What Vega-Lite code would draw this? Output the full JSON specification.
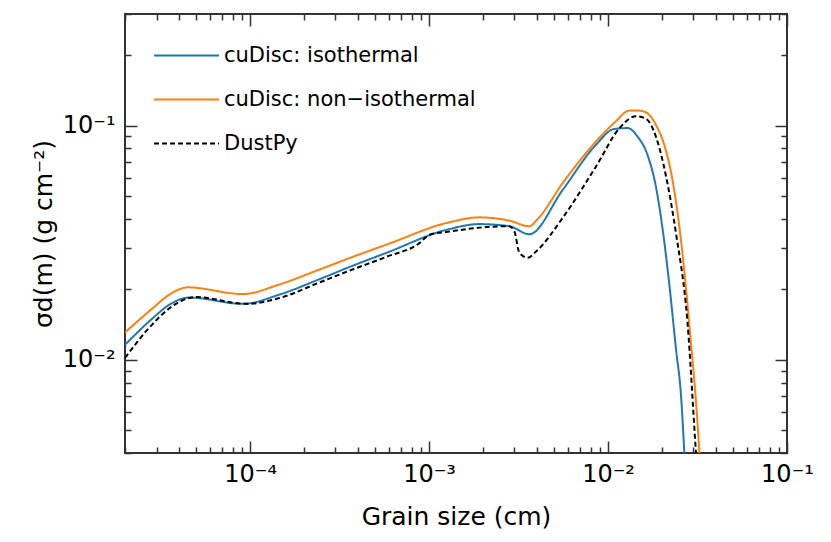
{
  "$schema": "https://vega.github.io/schema/vega-lite/v6.json",
  "width": 662,
  "height": 439,
  "autosize": "none",
  "padding": {"left": 125, "top": 14, "right": 44, "bottom": 89},
  "data": {
    "values": [
      {"series": "cuDisc: isothermal", "size": 0.00002, "sigma": 0.01159},
      {"series": "cuDisc: isothermal", "size": 0.0000286, "sigma": 0.01507},
      {"series": "cuDisc: isothermal", "size": 0.0000354, "sigma": 0.0172},
      {"series": "cuDisc: isothermal", "size": 0.0000458, "sigma": 0.01845},
      {"series": "cuDisc: isothermal", "size": 0.0000909, "sigma": 0.01734},
      {"series": "cuDisc: isothermal", "size": 0.000146, "sigma": 0.019},
      {"series": "cuDisc: isothermal", "size": 0.000244, "sigma": 0.0221},
      {"series": "cuDisc: isothermal", "size": 0.000373, "sigma": 0.0252},
      {"series": "cuDisc: isothermal", "size": 0.000575, "sigma": 0.0286},
      {"series": "cuDisc: isothermal", "size": 0.0013, "sigma": 0.0362},
      {"series": "cuDisc: isothermal", "size": 0.00191, "sigma": 0.038},
      {"series": "cuDisc: isothermal", "size": 0.00281, "sigma": 0.0372},
      {"series": "cuDisc: isothermal", "size": 0.00363, "sigma": 0.0344},
      {"series": "cuDisc: isothermal", "size": 0.00558, "sigma": 0.0532},
      {"series": "cuDisc: isothermal", "size": 0.00857, "sigma": 0.083},
      {"series": "cuDisc: isothermal", "size": 0.0108, "sigma": 0.0968},
      {"series": "cuDisc: isothermal", "size": 0.0129, "sigma": 0.0977},
      {"series": "cuDisc: isothermal", "size": 0.0146, "sigma": 0.09},
      {"series": "cuDisc: isothermal", "size": 0.0166, "sigma": 0.0752},
      {"series": "cuDisc: isothermal", "size": 0.0185, "sigma": 0.0551},
      {"series": "cuDisc: isothermal", "size": 0.0202, "sigma": 0.036},
      {"series": "cuDisc: isothermal", "size": 0.022, "sigma": 0.021},
      {"series": "cuDisc: isothermal", "size": 0.024, "sigma": 0.01104},
      {"series": "cuDisc: isothermal", "size": 0.0256, "sigma": 0.00697},
      {"series": "cuDisc: isothermal", "size": 0.0267, "sigma": 0.004},
      {"series": "cuDisc: isothermal", "size": 0.028, "sigma": 0.002},
      {"series": "cuDisc: non−isothermal", "size": 0.00002, "sigma": 0.01309},
      {"series": "cuDisc: non−isothermal", "size": 0.0000286, "sigma": 0.01663},
      {"series": "cuDisc: non−isothermal", "size": 0.0000354, "sigma": 0.019},
      {"series": "cuDisc: non−isothermal", "size": 0.0000448, "sigma": 0.0204},
      {"series": "cuDisc: non−isothermal", "size": 0.0000909, "sigma": 0.0191},
      {"series": "cuDisc: non−isothermal", "size": 0.000146, "sigma": 0.021},
      {"series": "cuDisc: non−isothermal", "size": 0.000244, "sigma": 0.0243},
      {"series": "cuDisc: non−isothermal", "size": 0.000373, "sigma": 0.0275},
      {"series": "cuDisc: non−isothermal", "size": 0.000575, "sigma": 0.031},
      {"series": "cuDisc: non−isothermal", "size": 0.0013, "sigma": 0.0387},
      {"series": "cuDisc: non−isothermal", "size": 0.00191, "sigma": 0.0406},
      {"series": "cuDisc: non−isothermal", "size": 0.00281, "sigma": 0.0393},
      {"series": "cuDisc: non−isothermal", "size": 0.00363, "sigma": 0.0372},
      {"series": "cuDisc: non−isothermal", "size": 0.00404, "sigma": 0.0399},
      {"series": "cuDisc: non−isothermal", "size": 0.00558, "sigma": 0.0569},
      {"series": "cuDisc: non−isothermal", "size": 0.00857, "sigma": 0.0857},
      {"series": "cuDisc: non−isothermal", "size": 0.0108, "sigma": 0.1026},
      {"series": "cuDisc: non−isothermal", "size": 0.0132, "sigma": 0.116},
      {"series": "cuDisc: non−isothermal", "size": 0.0149, "sigma": 0.116},
      {"series": "cuDisc: non−isothermal", "size": 0.0166, "sigma": 0.113},
      {"series": "cuDisc: non−isothermal", "size": 0.0185, "sigma": 0.101},
      {"series": "cuDisc: non−isothermal", "size": 0.0206, "sigma": 0.083},
      {"series": "cuDisc: non−isothermal", "size": 0.0229, "sigma": 0.0588},
      {"series": "cuDisc: non−isothermal", "size": 0.0256, "sigma": 0.0321},
      {"series": "cuDisc: non−isothermal", "size": 0.0284, "sigma": 0.01436},
      {"series": "cuDisc: non−isothermal", "size": 0.0324, "sigma": 0.004},
      {"series": "cuDisc: non−isothermal", "size": 0.034, "sigma": 0.002},
      {"series": "DustPy", "size": 0.00002, "sigma": 0.0102},
      {"series": "DustPy", "size": 0.0000286, "sigma": 0.01425},
      {"series": "DustPy", "size": 0.0000354, "sigma": 0.0166},
      {"series": "DustPy", "size": 0.0000499, "sigma": 0.01854},
      {"series": "DustPy", "size": 0.000095, "sigma": 0.01734},
      {"series": "DustPy", "size": 0.000146, "sigma": 0.01836},
      {"series": "DustPy", "size": 0.000244, "sigma": 0.0214},
      {"series": "DustPy", "size": 0.000373, "sigma": 0.0243},
      {"series": "DustPy", "size": 0.000575, "sigma": 0.0275},
      {"series": "DustPy", "size": 0.000883, "sigma": 0.0315},
      {"series": "DustPy", "size": 0.001005, "sigma": 0.0342},
      {"series": "DustPy", "size": 0.0013, "sigma": 0.0353},
      {"series": "DustPy", "size": 0.00191, "sigma": 0.0367},
      {"series": "DustPy", "size": 0.00281, "sigma": 0.0372},
      {"series": "DustPy", "size": 0.003, "sigma": 0.0353},
      {"series": "DustPy", "size": 0.0032, "sigma": 0.0286},
      {"series": "DustPy", "size": 0.00356, "sigma": 0.0273},
      {"series": "DustPy", "size": 0.00396, "sigma": 0.029},
      {"series": "DustPy", "size": 0.00558, "sigma": 0.0404},
      {"series": "DustPy", "size": 0.00857, "sigma": 0.067},
      {"series": "DustPy", "size": 0.0116, "sigma": 0.0977},
      {"series": "DustPy", "size": 0.0143, "sigma": 0.1097},
      {"series": "DustPy", "size": 0.0163, "sigma": 0.107},
      {"series": "DustPy", "size": 0.0185, "sigma": 0.09},
      {"series": "DustPy", "size": 0.0211, "sigma": 0.0607},
      {"series": "DustPy", "size": 0.024, "sigma": 0.0345},
      {"series": "DustPy", "size": 0.0278, "sigma": 0.0144},
      {"series": "DustPy", "size": 0.031, "sigma": 0.004},
      {"series": "DustPy", "size": 0.033, "sigma": 0.002}
    ]
  },
  "layer": [
    {
      "mark": {"type": "line", "interpolate": "monotone", "clip": true, "strokeWidth": 2},
      "encoding": {
        "x": {
          "field": "size",
          "type": "quantitative",
          "scale": {"type": "log", "domain": [0.00002, 0.1], "nice": false},
          "axis": {
            "orient": "bottom",
            "values": [0.00002, 0.00003, 0.00004, 0.00005, 0.00006, 0.00007, 0.00008, 0.00009, 0.0001, 0.0002, 0.0003, 0.0004, 0.0005, 0.0006, 0.0007, 0.0008, 0.0009, 0.001, 0.002, 0.003, 0.004, 0.005, 0.006, 0.007, 0.008, 0.009, 0.01, 0.02, 0.03, 0.04, 0.05, 0.06, 0.07, 0.08, 0.09, 0.1],
            "labelExpr": "abs(log(datum.value)/LN10 - round(log(datum.value)/LN10)) < 0.001 ? '10⁻' + ['','¹','²','³','⁴','⁵'][-round(log(datum.value)/LN10)] : ''",
            "tickSize": {"condition": {"test": "abs(log(datum.value)/LN10 - round(log(datum.value)/LN10)) < 0.001", "value": -12}, "value": -6},
            "labelPadding": 21,
            "title": "Grain size (cm)",
            "titlePadding": 12
          }
        },
        "y": {
          "field": "sigma",
          "type": "quantitative",
          "scale": {"type": "log", "domain": [0.004, 0.3], "nice": false},
          "axis": {
            "orient": "left",
            "values": [0.004, 0.005, 0.006, 0.007, 0.008, 0.009, 0.01, 0.02, 0.03, 0.04, 0.05, 0.06, 0.07, 0.08, 0.09, 0.1, 0.2, 0.3],
            "labelExpr": "abs(log(datum.value)/LN10 - round(log(datum.value)/LN10)) < 0.001 ? '10⁻' + ['','¹','²','³','⁴','⁵'][-round(log(datum.value)/LN10)] : ''",
            "tickSize": {"condition": {"test": "abs(log(datum.value)/LN10 - round(log(datum.value)/LN10)) < 0.001", "value": -12}, "value": -6},
            "labelPadding": 22,
            "title": "σd(m) (g cm⁻²)",
            "titlePadding": 6
          }
        },
        "color": {
          "field": "series",
          "type": "nominal",
          "scale": {"domain": ["cuDisc: isothermal", "cuDisc: non−isothermal", "DustPy"], "range": ["#1f77b4", "#ff7f0e", "#000000"]},
          "legend": {"orient": "none", "legendX": 28, "legendY": 8, "title": null}
        },
        "strokeDash": {
          "field": "series",
          "type": "nominal",
          "scale": {"domain": ["cuDisc: isothermal", "cuDisc: non−isothermal", "DustPy"], "range": [[1, 0], [1, 0], [5, 3]]},
          "legend": {"orient": "none", "legendX": 28, "legendY": 8, "title": null}
        }
      }
    },
    {
      "mark": {"type": "point", "opacity": 0, "clip": true},
      "encoding": {
        "x": {
          "field": "size",
          "type": "quantitative",
          "axis": {
            "orient": "top",
            "values": [0.00002, 0.00003, 0.00004, 0.00005, 0.00006, 0.00007, 0.00008, 0.00009, 0.0001, 0.0002, 0.0003, 0.0004, 0.0005, 0.0006, 0.0007, 0.0008, 0.0009, 0.001, 0.002, 0.003, 0.004, 0.005, 0.006, 0.007, 0.008, 0.009, 0.01, 0.02, 0.03, 0.04, 0.05, 0.06, 0.07, 0.08, 0.09, 0.1],
            "labels": false,
            "title": null,
            "tickSize": {"condition": {"test": "abs(log(datum.value)/LN10 - round(log(datum.value)/LN10)) < 0.001", "value": -12}, "value": -6}
          }
        },
        "y": {
          "field": "sigma",
          "type": "quantitative",
          "axis": {
            "orient": "right",
            "values": [0.004, 0.005, 0.006, 0.007, 0.008, 0.009, 0.01, 0.02, 0.03, 0.04, 0.05, 0.06, 0.07, 0.08, 0.09, 0.1, 0.2, 0.3],
            "labels": false,
            "title": null,
            "tickSize": {"condition": {"test": "abs(log(datum.value)/LN10 - round(log(datum.value)/LN10)) < 0.001", "value": -12}, "value": -6}
          }
        }
      }
    }
  ],
  "resolve": {"axis": {"x": "independent", "y": "independent"}},
  "config": {
    "view": {"stroke": "#333333", "strokeWidth": 2},
    "axis": {
      "domain": false,
      "grid": false,
      "tickColor": "#333333",
      "tickWidth": 1.5,
      "labelFont": "DejaVu Sans",
      "labelFontSize": 24,
      "labelColor": "#000000",
      "labelOverlap": false,
      "labelFlush": false,
      "titleFont": "DejaVu Sans",
      "titleFontSize": 25,
      "titleFontWeight": "normal",
      "titleColor": "#000000"
    },
    "legend": {
      "symbolType": "stroke",
      "symbolSize": 4225,
      "symbolStrokeWidth": 2,
      "labelFont": "DejaVu Sans",
      "labelFontSize": 21,
      "labelColor": "#000000",
      "labelOffset": 4,
      "rowPadding": 0,
      "labelLimit": 400
    }
  }
}
